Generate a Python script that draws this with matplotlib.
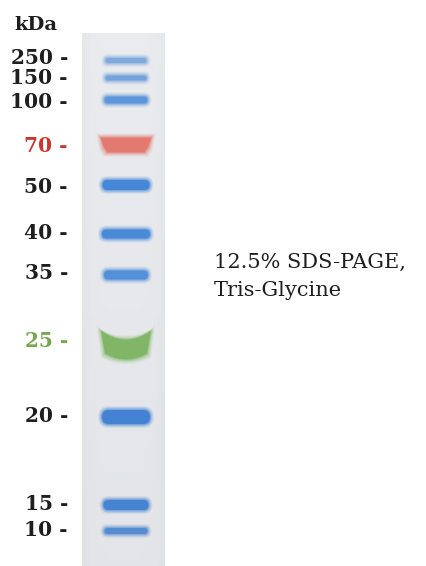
import numpy as np
import matplotlib
matplotlib.use("Agg")
import matplotlib.pyplot as plt
from matplotlib.patches import FancyBboxPatch, PathPatch
from matplotlib.path import Path

# marker sizes (kDa) and where each band sits in the lane (px from figure top)
sizes = [250, 150, 100, 70, 50, 40, 35, 25, 20, 15, 10]
band_y = [60.5, 78, 100, 145, 185, 234, 275, 345, 417, 505, 531]
label_y = [58, 78, 102, 146, 187, 233, 273, 341, 416, 504, 530]

band_h = [5, 5, 7, 15, 10, 9, 9, 29, 14, 10, 6]
band_w = [41, 41, 43, 51, 47, 48, 44, 50, 48, 45, 43]
band_col = ['#7aa6dc', '#6f9fdb', '#5590d8', '#e2746a', '#3d82d8', '#3f84d8',
            '#4a8bda', '#79b25c', '#3a7bd2', '#3d7ed2', '#4f86cf']
lab_col = ['#1e1e1e'] * len(sizes)
lab_col[3] = '#c8372e'
lab_col[7] = '#76a64e'

fig = plt.figure(figsize=(4.27, 5.66), dpi=100)
ax = fig.add_axes([0, 0, 1, 1])
ax.set_xlim(0, 427)
ax.set_ylim(566, 0)
ax.axis('off')

# gel lane with a soft gradient
lane_x0, lane_x1, lane_top = 82, 165, 33
grad = np.linspace(0, 1, 100)[:, None] * np.ones((1, 20))
edge = np.abs(np.linspace(-1, 1, 20))[None, :] ** 6
shade = 0.915 - 0.025 * grad - 0.015 * edge
img = np.dstack([shade, shade + 0.008, shade + 0.02])
ax.imshow(np.clip(img, 0, 1), extent=(lane_x0, lane_x1, 566, lane_top), aspect='auto', zorder=1)

glow = [(4, 0.1), (3, 0.15), (2, 0.22), (1, 0.35), (0, 0.85)]


def grow(verts, k, yc):
    return [(vx + (k if vx > cx else -k), vy + (k if vy > yc else -k)) for vx, vy in verts]


cx = 126
for y, h, w, c, s in zip(band_y, band_h, band_w, band_col, sizes):
    if s == 70:
        # trapezoid band, wider on top
        t, b = y - h / 2, y + h / 2
        verts = [(cx - w / 2, t), (cx + w / 2, t), (cx + w / 2 - 3, t + h * 0.6),
                 (cx + w / 2 - 7, b), (cx - w / 2 + 7, b), (cx - w / 2 + 3, t + h * 0.6),
                 (cx - w / 2, t)]
        for k, a in glow:
            ax.add_patch(PathPatch(Path(grow(verts, k, y)), fc=c, ec='none', alpha=a, zorder=3))
    elif s == 25:
        # smiling broad band
        t, b = y - h / 2, y + h / 2
        xs = np.linspace(-1, 1, 30)
        top = [(cx + xi * w / 2, t + 9 * (1 - xi ** 2)) for xi in xs]
        bot = [(cx + xi * (w / 2 - 4), b - 6 * xi ** 2) for xi in xs[::-1]]
        verts = top + bot + [top[0]]
        for k, a in glow:
            ax.add_patch(PathPatch(Path(grow(verts, k, y)), fc=c, ec='none', alpha=a * 0.95, zorder=3))
    else:
        for k, a in glow:
            hh = h + 2 * k
            ww = w + 2 * k
            ax.add_patch(FancyBboxPatch((cx - ww / 2, y - hh / 2), ww, hh,
                                        boxstyle='round,pad=0,rounding_size=%f' % (hh / 2),
                                        fc=c, ec='none', alpha=a, zorder=3))

for s, ly, c in zip(sizes, label_y, lab_col):
    ax.text(68, ly, '%d -' % s, ha='right', va='center', color=c,
            family='DejaVu Serif', weight='bold', fontsize=14.5, zorder=4)

ax.text(14, 25, 'kDa', ha='left', va='center', color='#1e1e1e',
        family='DejaVu Serif', weight='bold', fontsize=14)
ax.text(214, 262, '12.5% SDS-PAGE,', ha='left', va='center', color='#1e1e1e',
        family='DejaVu Serif', fontsize=15)
ax.text(214, 291, 'Tris-Glycine', ha='left', va='center', color='#1e1e1e',
        family='DejaVu Serif', fontsize=15)

fig.savefig('out.png', dpi=100, facecolor='white')
